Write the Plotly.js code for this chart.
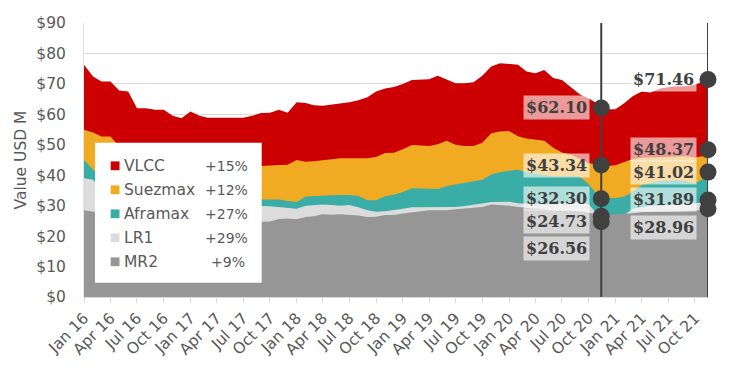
<!DOCTYPE html>
<html>
<head>
<meta charset="utf-8">
<script src="https://cdn.plot.ly/plotly-3.0.1.min.js"></script>
<style>html,body{margin:0;padding:0;background:#fff;}#chart{width:739px;height:372px;}</style>
</head>
<body>
<div id="chart"></div>
<script>
// ---- data ----
const dates = [
 '2016-01-01','2016-02-01','2016-03-01','2016-04-01','2016-05-01','2016-06-01','2016-07-01','2016-08-01','2016-09-01','2016-10-01','2016-11-01','2016-12-01',
 '2017-01-01','2017-02-01','2017-03-01','2017-04-01','2017-05-01','2017-06-01','2017-07-01','2017-08-01','2017-09-01','2017-10-01','2017-11-01','2017-12-01',
 '2018-01-01','2018-02-01','2018-03-01','2018-04-01','2018-05-01','2018-06-01','2018-07-01','2018-08-01','2018-09-01','2018-10-01','2018-11-01','2018-12-01',
 '2019-01-01','2019-02-01','2019-03-01','2019-04-01','2019-05-01','2019-06-01','2019-07-01','2019-08-01','2019-09-01','2019-10-01','2019-11-01','2019-12-01',
 '2020-01-01','2020-02-01','2020-03-01','2020-04-01','2020-05-01','2020-06-01','2020-07-01','2020-08-01','2020-09-01','2020-10-01','2020-11-01','2020-11-13','2020-12-01',
 '2021-01-01','2021-02-01','2021-03-01','2021-04-01','2021-05-01','2021-06-01','2021-07-01','2021-08-01','2021-09-01','2021-10-01','2021-11-01','2021-11-15'
];
const vlcc = [
 76.3,72.4,70.8,70.8,67.8,67.5,62.0,62.0,61.5,61.5,59.5,58.7,
 60.9,59.5,58.9,58.9,58.9,58.9,58.9,59.5,60.4,60.5,61.5,60.5,
 64.0,63.7,63.0,62.8,63.2,63.5,64.0,64.6,65.6,67.5,68.5,69.0,
 70.0,71.3,71.3,71.5,72.7,71.3,70.2,70.2,70.5,72.7,75.7,76.8,
 76.5,76.3,74.1,73.5,74.6,71.9,71.3,69.0,66.5,65.2,63.5,62.10,61.7,
 61.7,63.7,65.9,67.5,67.2,68.4,68.9,69.2,69.2,69.7,70.8,71.46
];
const suezmax = [
 54.9,54.0,52.7,52.7,49.5,47.5,46.0,45.0,44.5,44.0,43.5,43.2,
 43.5,43.3,43.0,43.0,42.8,42.8,42.8,42.8,43.0,43.2,43.4,43.4,
 45.0,44.4,44.6,45.0,45.2,45.6,45.6,45.6,45.6,46.0,47.3,47.4,
 48.5,49.9,49.7,49.6,50.2,51.3,50.0,49.6,49.6,50.7,53.8,54.4,
 54.5,52.8,52.1,51.7,51.3,49.0,47.5,46.8,45.2,43.9,43.5,43.34,43.0,
 43.3,44.4,45.3,45.7,45.8,46.0,46.2,46.3,46.2,45.8,46.3,48.37
];
const aframax = [
 45.0,42.0,39.0,37.0,35.5,34.5,33.5,33.0,32.8,32.5,32.5,32.3,
 32.2,32.0,32.0,32.0,32.0,32.0,32.0,32.0,32.0,32.0,32.0,31.5,
 31.2,33.0,33.2,33.3,33.4,33.5,33.5,33.2,31.8,31.8,33.1,33.6,
 34.5,35.7,35.7,35.6,35.5,36.5,37.0,37.3,37.8,38.5,40.2,41.0,
 41.5,41.8,41.0,40.6,40.0,39.6,39.6,39.7,39.5,37.0,33.5,32.30,32.4,
 32.5,33.0,34.5,36.8,37.5,38.0,38.3,38.4,38.0,37.3,39.0,41.02
];
const lr1 = [
 39.0,38.5,35.0,32.0,30.5,29.5,29.0,28.8,28.8,28.8,28.8,28.8,
 28.8,28.8,28.8,28.8,29.0,29.2,29.5,29.7,29.9,29.8,29.6,29.4,
 29.0,30.0,30.3,30.4,30.2,30.0,30.2,29.5,28.5,28.0,28.2,28.5,
 29.0,29.5,29.5,29.4,29.5,29.6,29.6,29.9,30.2,30.7,31.2,31.3,
 31.3,30.8,30.6,30.5,30.5,30.5,30.8,31.0,31.0,30.5,27.0,24.73,25.0,
 26.0,27.0,29.0,29.5,30.0,30.0,30.2,30.4,30.5,30.6,31.0,31.89
];
const mr2 = [
 28.5,28.0,27.5,27.0,26.5,26.0,25.5,25.2,25.0,24.8,24.6,24.5,
 24.5,24.5,24.5,24.5,24.5,24.5,24.6,24.7,24.7,24.8,25.6,25.8,
 25.5,26.3,26.5,27.2,27.0,27.2,27.0,26.8,26.3,26.4,26.9,26.9,
 27.4,27.8,28.2,28.5,28.5,28.5,28.8,29.0,29.3,29.6,30.4,30.3,
 30.0,29.6,29.4,29.1,28.8,28.5,28.3,28.3,28.2,27.8,27.2,26.56,27.0,
 27.2,27.3,27.5,27.8,28.0,28.0,28.0,28.0,28.2,28.3,28.6,28.96
];
const seriesNames = ['VLCC','Suezmax','Aframax','LR1','MR2'];
const changePct = ['+15%','+12%','+27%','+29%','+9%'];
const markDates = ['2020-11-13','2021-11-15'];

// ---- styling ----
const seriesVals = [vlcc, suezmax, aframax, lr1, mr2];
const seriesColors = ['#cc0000','#f0ab23','#3aada6','#dcdcdc','#969696'];
const FONT = 'DejaVu Sans, Verdana, sans-serif';
const TXT = '#595959';
const DARK = '#404040';

const traces = [];
seriesNames.forEach((n, i) => {
  traces.push({
    type: 'scatter', mode: 'lines', x: dates, y: seriesVals[i], name: n,
    fill: 'tozeroy', fillcolor: seriesColors[i],
    line: {width: 0, color: seriesColors[i]}, hoverinfo: 'skip', showlegend: false
  });
});
// vertical reference lines
markDates.forEach(d => {
  traces.push({type: 'scatter', mode: 'lines', x: [d, d], y: [0, 90],
    line: {color: DARK, width: 2}, hoverinfo: 'skip', showlegend: false, cliponaxis: false});
});
// markers + value labels
const mx = [], my = [];
const annotations = [];
markDates.forEach((d, k) => {
  const idx = dates.indexOf(d);
  seriesVals.forEach((vals, i) => {
    const v = vals[idx];
    mx.push(d); my.push(v);
    let ys = 0;
    if (i === 4) ys = (k === 0) ? -32 : -19;
    annotations.push({
      x: d, y: v, xref: 'x', yref: 'y', showarrow: false,
      text: '<b>$' + v.toFixed(2) + '</b>',
      xanchor: 'right', yanchor: 'middle', xshift: -11, yshift: ys,
      font: {family: 'DejaVu Serif, serif', size: 16, color: DARK},
      bgcolor: 'rgba(255,255,255,0.6)', borderpad: 2
    });
  });
});
traces.push({type: 'scatter', mode: 'markers', x: mx, y: my,
  marker: {color: DARK, size: 17}, hoverinfo: 'skip', showlegend: false, cliponaxis: false});

// ---- custom legend (paper coords from pixel positions) ----
const L = 84, R = 708, T = 23, B = 297;
const px = x => (x - L) / (R - L);
const py = y => (B - y) / (B - T);
const shapes = [{type: 'rect', xref: 'paper', yref: 'paper',
  x0: px(95), x1: px(261.7), y0: py(282.7), y1: py(142.7),
  fillcolor: '#ffffff', line: {width: 0}, layer: 'above'}];
seriesNames.forEach((n, i) => {
  const cy = 165.8 + 24 * i;
  shapes.push({type: 'rect', xref: 'paper', yref: 'paper',
    x0: px(110.7), x1: px(119.5), y0: py(cy + 4.4), y1: py(cy - 4.4),
    fillcolor: seriesColors[i], line: {width: 0}, layer: 'above'});
  annotations.push({xref: 'paper', yref: 'paper', x: px(121.5), y: py(cy),
    xanchor: 'left', yanchor: 'middle', showarrow: false, text: n,
    font: {family: FONT, size: 15.5, color: TXT}});
  annotations.push({xref: 'paper', yref: 'paper', x: px(i === 4 ? 247 : 249.5), y: py(cy),
    xanchor: 'right', yanchor: 'middle', showarrow: false, text: changePct[i],
    font: {family: FONT, size: 14, color: TXT}});
});

const layout = {
  width: 739, height: 372,
  margin: {l: L, r: 739 - R, t: T, b: 372 - B},
  paper_bgcolor: '#ffffff', plot_bgcolor: '#ffffff',
  showlegend: false,
  font: {family: FONT, color: TXT, size: 15.5},
  xaxis: {
    type: 'date', range: [dates[0], markDates[1]],
    tick0: '2016-01-01', dtick: 'M3', tickformat: '%b %y', tickangle: -45,
    ticks: 'outside', ticklen: 5, tickcolor: '#d9d9d9',
    showline: true, linecolor: '#d9d9d9', linewidth: 1,
    showgrid: false, zeroline: false,
    tickfont: {family: FONT, size: 15.5, color: TXT}
  },
  yaxis: {
    range: [0, 90], dtick: 10, tickprefix: '$',
    showgrid: true, gridcolor: '#d9d9d9', gridwidth: 1,
    showline: true, linecolor: '#e4e4e4', zeroline: false,
    ticks: '', ticklabelstandoff: 14,
    tickfont: {family: FONT, size: 15.5, color: TXT},
    title: {text: 'Value USD M', font: {family: FONT, size: 15.5, color: TXT}, standoff: 5}
  },
  shapes: shapes,
  annotations: annotations
};

Plotly.newPlot('chart', traces, layout, {staticPlot: true, displayModeBar: false});
</script>
</body>
</html>
